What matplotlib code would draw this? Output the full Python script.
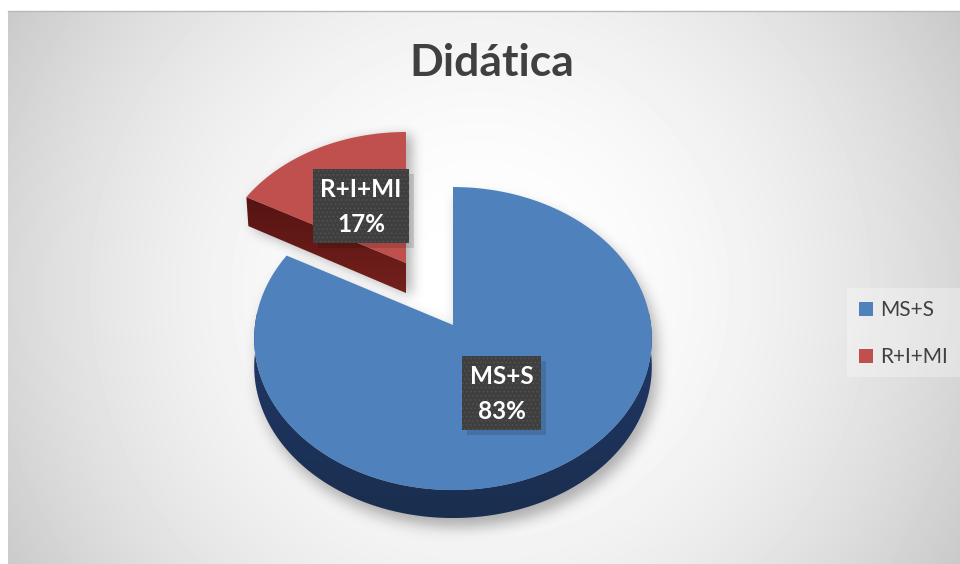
import numpy as np
import matplotlib
matplotlib.use("Agg")
import matplotlib.pyplot as plt
from matplotlib.patches import Polygon, Rectangle
from matplotlib.lines import Line2D
from matplotlib.path import Path

title = "Didática"
categories = ["MS+S", "R+I+MI"]
values = [83, 17]
colors_top = ["#4F81BD", "#C0504D"]

W, H = 960, 564
plt.rcParams["hatch.color"] = "#555555"
plt.rcParams["hatch.linewidth"] = 0.5
FONT = "Lato"

fig = plt.figure(figsize=(9.6, 5.64), dpi=100, facecolor="white")
ax = fig.add_axes([0, 0, 1, 1])


def reset_limits():
    ax.set_xlim(0, W)
    ax.set_ylim(H, 0)


reset_limits()
ax.axis("off")

# background panel
px0, py0 = 8, 11
yy, xx = np.mgrid[py0:H:1.0, px0:W:1.0]
r = np.sqrt(((xx - 480) / 480) ** 2 + ((yy - 290) / 480) ** 2)
bg = 1 - 0.16 * r ** 2
ax.imshow(bg, cmap="gray", vmin=0, vmax=1, extent=[px0, W, H, py0], aspect="auto", zorder=0)
reset_limits()
ax.add_line(Line2D([px0, W], [py0, py0], color="#b8b8b8", lw=1, zorder=0.5))

total = sum(values)
sweeps = [v / total * 2 * np.pi for v in values]
PERSP = 0.0893


def arc(apex, ax_x, ax_y, a0, a1, n=240):
    """Rim of a pie slice, seen in perspective; apex is the pie's centre."""
    t = np.linspace(a0, a1, n)
    d = 1 + PERSP * np.cos(t)
    return np.column_stack([apex[0] + ax_x * np.sin(t) / d, apex[1] - ax_y * np.cos(t) / d])


def soft_shadow(polys, dx, dy, sigma, strength, zorder):
    gy, gx = np.mgrid[0:H, 0:W]
    grid = np.column_stack([gx.ravel() + 0.5, gy.ravel() + 0.5])
    mask = np.zeros(H * W, dtype=bool)
    for p in polys:
        mask |= Path(p + [dx, dy]).contains_points(grid)
    m = mask.reshape(H, W).astype(float)
    k = np.exp(-0.5 * (np.arange(-3 * sigma, 3 * sigma + 1) / sigma) ** 2)
    k /= k.sum()
    m = np.apply_along_axis(lambda v: np.convolve(v, k, mode="same"), 0, m)
    m = np.apply_along_axis(lambda v: np.convolve(v, k, mode="same"), 1, m)
    rgba = np.zeros((H, W, 4))
    rgba[..., 3] = m * strength
    ax.imshow(rgba, extent=[0, W, H, 0], aspect="auto", zorder=zorder)
    reset_limits()


def gradient_fill(pts, c_top, c_bot, zorder):
    poly = Polygon(pts, closed=True, fc="none", ec="none", zorder=zorder)
    ax.add_patch(poly)
    y0, y1 = pts[:, 1].min(), pts[:, 1].max()
    x0, x1 = pts[:, 0].min(), pts[:, 0].max()
    c0 = np.array(matplotlib.colors.to_rgb(c_top))
    c1 = np.array(matplotlib.colors.to_rgb(c_bot))
    t = np.linspace(0, 1, 128)[:, None, None]
    im = ax.imshow(c0[None, None, :] * (1 - t) + c1[None, None, :] * t,
                   extent=[x0, x1, y1, y0], aspect="auto", zorder=zorder)
    im.set_clip_path(poly)
    reset_limits()


# ---- blue slice (starts at 12 o'clock, clockwise)
b_apex = np.array([453.0, 325.0])
b_arc = arc(b_apex, 198.0, 150.3, 0, sweeps[0])
b_top = np.vstack([b_apex, b_arc])
low = arc(b_apex, 198.0, 150.3, np.radians(85), np.radians(275))
b_side = np.vstack([low, (low + [0, 28.0])[::-1]])

# ---- red slice (pulled out)
r_apex = np.array([406.0, 263.0])
r_arc = arc(r_apex, 190.0, 142.7, sweeps[0], 2 * np.pi)
r_top = np.vstack([r_apex, r_arc])
r_side = np.vstack([r_arc[0], r_apex, r_apex + [0, 30], r_arc[0] + [2, 29]])

soft_shadow([b_top, b_side], 5, 9, 7, 0.30, 1)
soft_shadow([r_top, r_side], 6, 3, 6, 0.30, 1.1)

gradient_fill(b_side, "#21396A", "#1A2E4E", 2)
ax.add_patch(Polygon(b_top, closed=True, fc=colors_top[0], ec="none", zorder=3))
gradient_fill(r_side, "#561412", "#74201D", 2.5)
ax.add_patch(Polygon(r_top, closed=True, fc=colors_top[1], ec="none", zorder=3))


# ---- data labels
def label(x0, y0, x1, y1, txt):
    ax.add_patch(Rectangle((x0 + 5, y0 + 5), x1 - x0, y1 - y0, fc="black", alpha=0.13, ec="none", zorder=4))
    ax.add_patch(Rectangle((x0, y0), x1 - x0, y1 - y0, fc="#3F3F3F", ec="none", zorder=4.1))
    ax.add_patch(Rectangle((x0, y0), x1 - x0, y1 - y0, fc="none", ec="#555555", lw=0, hatch="....", zorder=4.2))
    ax.text((x0 + x1) / 2, (y0 + y1) / 2 + 1, txt, color="white", fontsize=17.5, fontweight="bold",
            family=FONT, ha="center", va="center", linespacing=1.6, zorder=5)


label(313, 169, 409, 243, f"{categories[1]}\n{values[1]}%")
label(462, 356, 541, 430, f"{categories[0]}\n{values[0]}%")

# ---- title
ax.text(492, 63, title, color="#404040", fontsize=32, fontweight="bold", family=FONT,
        ha="center", va="center", zorder=5)

# ---- legend
handles = [Rectangle((0, 0), 1, 1, fc=c, ec="none") for c in colors_top]
ax.add_patch(Rectangle((847, 288), 113, 89, fc="white", alpha=0.3, ec="none", zorder=1.2))
leg = ax.legend(handles, categories, loc="upper left", bbox_to_anchor=(859, 300), bbox_transform=ax.transData,
                frameon=False, borderpad=0, borderaxespad=0, handlelength=0.67, handleheight=0.67, handletextpad=0.33,
                labelspacing=1.3, prop={"family": FONT, "size": 15}, labelcolor="#404040")
leg.set_zorder(6)

fig.savefig("out.png", dpi=100, facecolor="white")
